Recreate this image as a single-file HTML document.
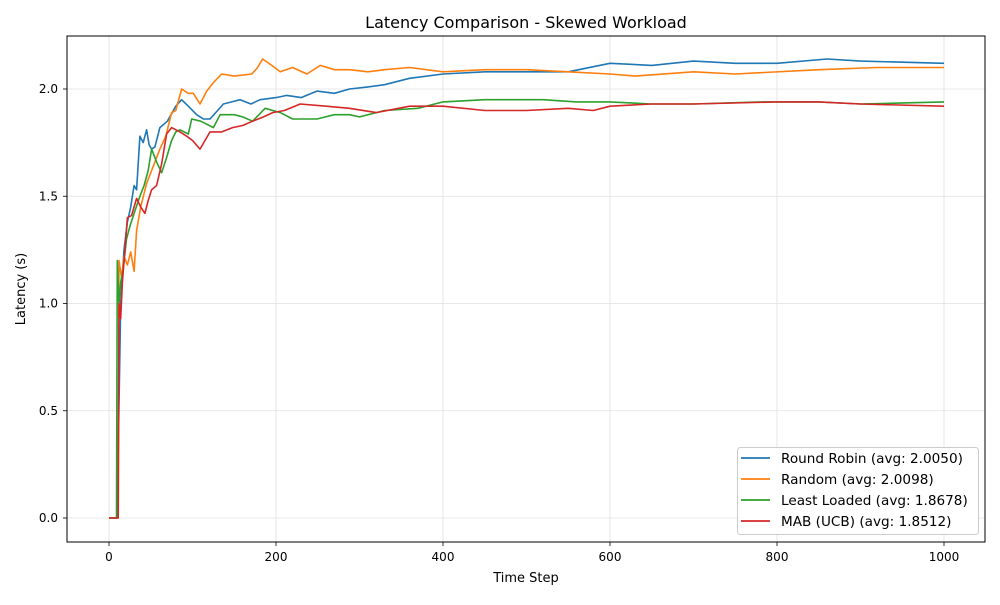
<!DOCTYPE html>
<html><head><meta charset="utf-8"><style>
body{margin:0;background:#fff;font-family:"Liberation Sans","DejaVu Sans",sans-serif;}
svg text{font-family:"DejaVu Sans","Liberation Sans",sans-serif;}
</style></head><body>
<svg id="chart" width="1000" height="600" xmlns="http://www.w3.org/2000/svg">
<rect width="1000" height="600" fill="#fff"/>
<g id="grid"></g>
<g id="series"></g>
<rect x="67" y="36" width="918" height="506" fill="none" stroke="#000" stroke-width="1"/>
<g id="ticks"></g>
<text x="526" y="28" text-anchor="middle" font-size="16">Latency Comparison - Skewed Workload</text>
<text x="526" y="582" text-anchor="middle" font-size="13">Time Step</text>
<text x="25" y="289" text-anchor="middle" font-size="13" transform="rotate(-90 25 289)">Latency (s)</text>
<g id="legend"></g>
</svg>
<script>
const xTicks=[0,200,400,600,800,1000];
const yTicks=[0.0,0.5,1.0,1.5,2.0];
const seriesNames=["Round Robin (avg: 2.0050)","Random (avg: 2.0098)","Least Loaded (avg: 1.8678)","MAB (UCB) (avg: 1.8512)"];
const colors=["#1f77b4","#ff7f0e","#2ca02c","#d62728"];
const rrT=[0,10,11,14,18,22,26,30,33,37,41,45,48,51,55,61,70,80,87,95,105,113,121,130,137,147,157,170,181,200,213,230,249,270,288,310,330,360,400,450,500,550,600,650,700,750,800,860,900,1000];
const rrV=[0,0,0.3,1.0,1.25,1.38,1.45,1.55,1.53,1.78,1.75,1.81,1.74,1.72,1.73,1.82,1.85,1.92,1.95,1.92,1.88,1.86,1.86,1.9,1.93,1.94,1.95,1.93,1.95,1.96,1.97,1.96,1.99,1.98,2.0,2.01,2.02,2.05,2.07,2.08,2.08,2.08,2.12,2.11,2.13,2.12,2.12,2.14,2.13,2.12];
const rdT=[0,11,12,15,18,22,26,30,33,38,45,52,61,68,75,80,87,95,101,109,117,125,135,150,171,178,184,195,205,220,237,253,270,288,310,330,360,400,450,500,550,600,630,700,750,850,920,1000];
const rdV=[0,0,1.2,1.12,1.22,1.18,1.24,1.15,1.34,1.45,1.56,1.63,1.72,1.78,1.89,1.9,2.0,1.98,1.98,1.93,1.99,2.03,2.07,2.06,2.07,2.1,2.14,2.11,2.08,2.1,2.07,2.11,2.09,2.09,2.08,2.09,2.1,2.08,2.09,2.09,2.08,2.07,2.06,2.08,2.07,2.09,2.1,2.1];
const llT=[0,9,10,12,14,17,21,25,30,37,42,47,51,57,63,69,75,80,85,95,99,110,125,133,150,160,172,187,205,220,249,270,288,300,330,370,400,450,500,520,560,600,650,700,780,850,900,1000];
const llV=[0,0,1.2,1.0,1.1,1.16,1.3,1.36,1.42,1.5,1.55,1.62,1.72,1.66,1.61,1.68,1.76,1.8,1.81,1.79,1.86,1.85,1.82,1.88,1.88,1.87,1.85,1.91,1.89,1.86,1.86,1.88,1.88,1.87,1.9,1.91,1.94,1.95,1.95,1.95,1.94,1.94,1.93,1.93,1.94,1.94,1.93,1.94];
const mabT=[0,11,12,14,16,19,22,27,33,38,43,47,51,57,63,69,75,85,93,100,109,121,135,148,160,172,185,196,210,229,260,288,320,360,400,450,500,550,580,600,650,700,800,850,900,1000];
const mabV=[0,0,1.0,0.93,1.1,1.25,1.4,1.41,1.49,1.45,1.42,1.48,1.53,1.55,1.65,1.79,1.82,1.8,1.78,1.76,1.72,1.8,1.8,1.82,1.83,1.85,1.87,1.89,1.9,1.93,1.92,1.91,1.89,1.92,1.92,1.9,1.9,1.91,1.9,1.92,1.93,1.93,1.94,1.94,1.93,1.92];
const allT=[rrT,rdT,llT,mabT], allV=[rrV,rdV,llV,mabV];
const NS="http://www.w3.org/2000/svg";
function xs(t){return 109+(t)*(944-109)/1000;}
function ys(v){return 518-v*(518-89)/2.0;}
function mk(tag,attrs,parent){const e=document.createElementNS(NS,tag);for(const k in attrs)e.setAttribute(k,attrs[k]);parent.appendChild(e);return e;}
const grid=document.getElementById('grid'),ticks=document.getElementById('ticks'),ser=document.getElementById('series'),leg=document.getElementById('legend');
xTicks.forEach(t=>{const x=xs(t);
 const g=mk('line',{x1:x,x2:x,y1:36,y2:542,stroke:'#e0e0e0','stroke-width':0.8},grid);
 
 
 const tk=mk('line',{x1:x,x2:x,y1:542,y2:546,stroke:'#000','stroke-width':0.8},ticks);
 
 
 const tx=mk('text',{x:x,y:561,'text-anchor':'middle','font-size':12},ticks);tx.textContent=t;
 
 
});
yTicks.forEach(v=>{const y=ys(v);
 const g=mk('line',{x1:67,x2:985,y1:y,y2:y,stroke:'#e0e0e0','stroke-width':0.8},grid);
 
 
 const tk=mk('line',{x1:63,x2:67,y1:y,y2:y,stroke:'#000','stroke-width':0.8},ticks);
 
 
 const tx=mk('text',{x:58,y:y+4,'text-anchor':'end','font-size':12},ticks);tx.textContent=v.toFixed(1);
 
 
});
allT.forEach((T,i)=>{
 const d=T.map((t,j)=>(j?'L':'M')+xs(t).toFixed(1)+' '+ys(allV[i][j]).toFixed(1)).join(' ');
 const p=mk('path',{d:d,fill:'none',stroke:colors[i],'stroke-width':1.6,'stroke-linejoin':'round'},ser);
 
 
});
const lb=mk('rect',{x:737.5,y:447.5,width:241,height:87,rx:3,fill:'#fff','fill-opacity':0.85,stroke:'#ccc'},leg);


seriesNames.forEach((n,i)=>{const y=458+i*21;
 const l=mk('line',{x1:741,x2:770,y1:y,y2:y,stroke:colors[i],'stroke-width':1.8},leg);
 
 
 const t=mk('text',{x:781,y:y+5,'font-size':13.6},leg);t.textContent=n;
 
 
});
</script>
</body></html>
